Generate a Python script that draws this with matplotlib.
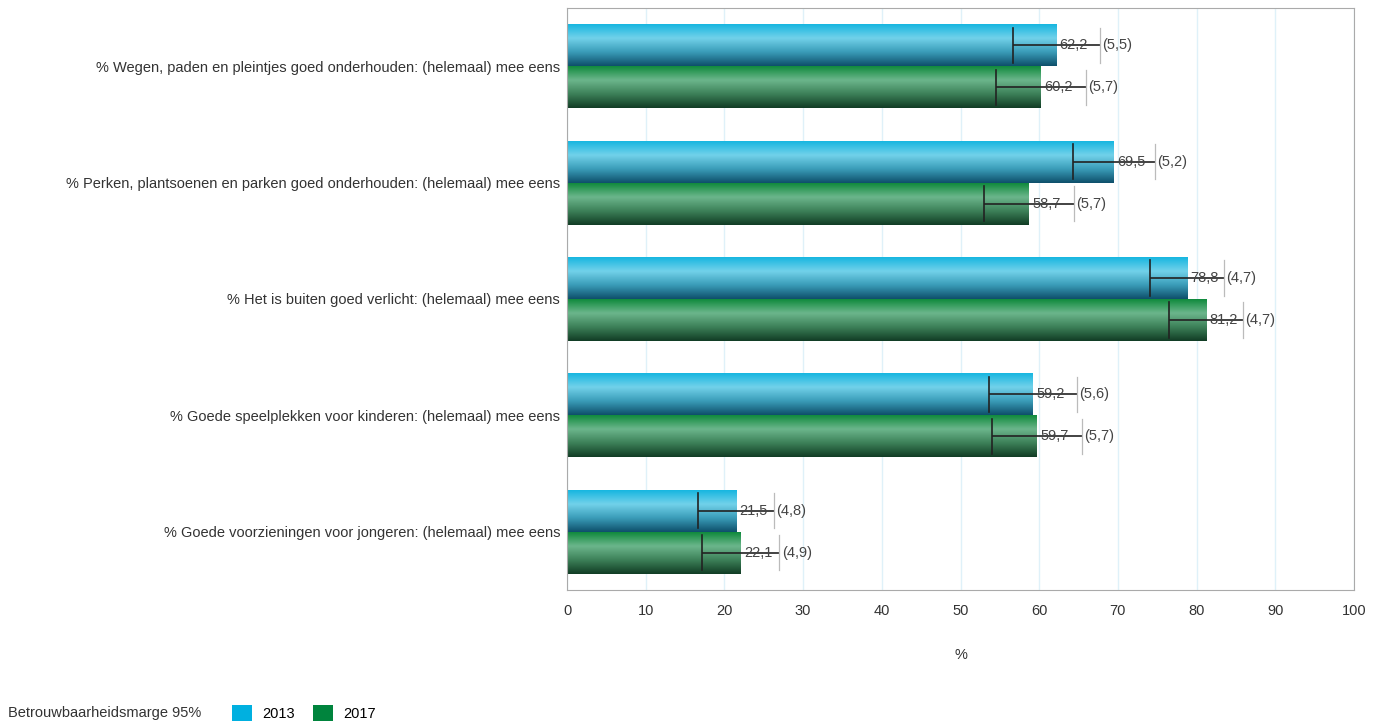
import numpy as np
import matplotlib.pyplot as plt
from matplotlib.patches import Patch
from matplotlib.colors import LinearSegmentedColormap

plt.rcParams['font.family'] = ['Liberation Sans', 'DejaVu Sans']

# Data
categories = [
    '% Wegen, paden en pleintjes goed onderhouden: (helemaal) mee eens',
    '% Perken, plantsoenen en parken goed onderhouden: (helemaal) mee eens',
    '% Het is buiten goed verlicht: (helemaal) mee eens',
    '% Goede speelplekken voor kinderen: (helemaal) mee eens',
    '% Goede voorzieningen voor jongeren: (helemaal) mee eens',
]
waarden_2013 = [62.2, 69.5, 78.8, 59.2, 21.5]
marge_2013 = [5.5, 5.2, 4.7, 5.6, 4.8]
waarden_2017 = [60.2, 58.7, 81.2, 59.7, 22.1]
marge_2017 = [5.7, 5.7, 4.7, 5.7, 4.9]
jaren = ['2013', '2017']

# kleurverloop voor de balken (boven -> onder)
cmap_2013 = LinearSegmentedColormap.from_list('c13', ['#16b6e0', '#72d2ea', '#3a9cb8', '#0e4f6a'])
cmap_2017 = LinearSegmentedColormap.from_list('c17', ['#0f8a3c', '#6cb68c', '#3c8058', '#113c24'])

fig = plt.figure(figsize=(13.82, 7.24), dpi=100)
ax = fig.add_axes([567 / 1382, 1 - 590 / 724, 787 / 1382, 582 / 724])

y = np.arange(len(categories))
h = 0.36
grad = np.linspace(0, 1, 256).reshape(-1, 1)


def gradient_bars(ypos, vals, cmap):
    bars = ax.barh(ypos, vals, height=h, color='none', edgecolor='none', zorder=2)
    for b in bars:
        x0, y0 = b.get_x(), b.get_y()
        w, hh = b.get_width(), b.get_height()
        im = ax.imshow(grad, cmap=cmap, aspect='auto', extent=[x0, x0 + w, y0 + hh, y0],
                       zorder=2, interpolation='bicubic')
        im.set_clip_path(b)
    return bars


y13 = y - h / 2
y17 = y + h / 2
gradient_bars(y13, waarden_2013, cmap_2013)
gradient_bars(y17, waarden_2017, cmap_2017)

for ypos, vals, marg in [(y13, waarden_2013, marge_2013), (y17, waarden_2017, marge_2017)]:
    ax.errorbar(vals, ypos, xerr=marg, fmt='none', ecolor='#222222', elinewidth=1.2,
                capsize=0, zorder=3)
    for yy, v, m in zip(ypos, vals, marg):
        ax.plot([v - m, v - m], [yy - h * 0.42, yy + h * 0.42], color='#222222', lw=1.2, zorder=3)
        ax.plot([v + m, v + m], [yy - h * 0.42, yy + h * 0.42], color='#bbbbbb', lw=0.9, zorder=3)
        ax.text(v + 0.4, yy, f'{v:.1f}'.replace('.', ','), va='center', ha='left',
                fontsize=10.5, color='#444444', zorder=4)
        ax.text(v + m + 0.3, yy, f'({m:.1f})'.replace('.', ','), va='center', ha='left',
                fontsize=10.5, color='#444444', zorder=4)

ax.set_xlim(0, 100)
ax.set_ylim(len(categories) - 0.5, -0.5)
ax.set_xticks(range(0, 101, 10))
ax.set_yticks(y)
ax.set_yticklabels(categories, fontsize=10.5, color='#333333')
ax.tick_params(axis='x', labelsize=10.5, colors='#333333', length=0, pad=10)
ax.tick_params(axis='y', length=0, pad=5)
ax.grid(axis='x', color='#dff1f9', lw=1, zorder=0)
ax.set_axisbelow(True)
for s in ax.spines.values():
    s.set_color('#aaaaaa')
ax.set_xlabel('%', fontsize=10.5, color='#333333', labelpad=22)

fig.text(8 / 1382, 1 - 713 / 724, 'Betrouwbaarheidsmarge 95%', fontsize=10.5,
         color='#333333', va='center', ha='left')
handles = [Patch(facecolor='#00b0e0'), Patch(facecolor='#00843d')]
fig.legend(handles, jaren, loc='center left', bbox_to_anchor=(226 / 1382, 1 - 713 / 724),
           ncol=2, frameon=False, fontsize=10.5, handlelength=1.4, handleheight=1.4,
           columnspacing=1.2, handletextpad=0.7, borderaxespad=0)

fig.savefig('out.png', dpi=100)
